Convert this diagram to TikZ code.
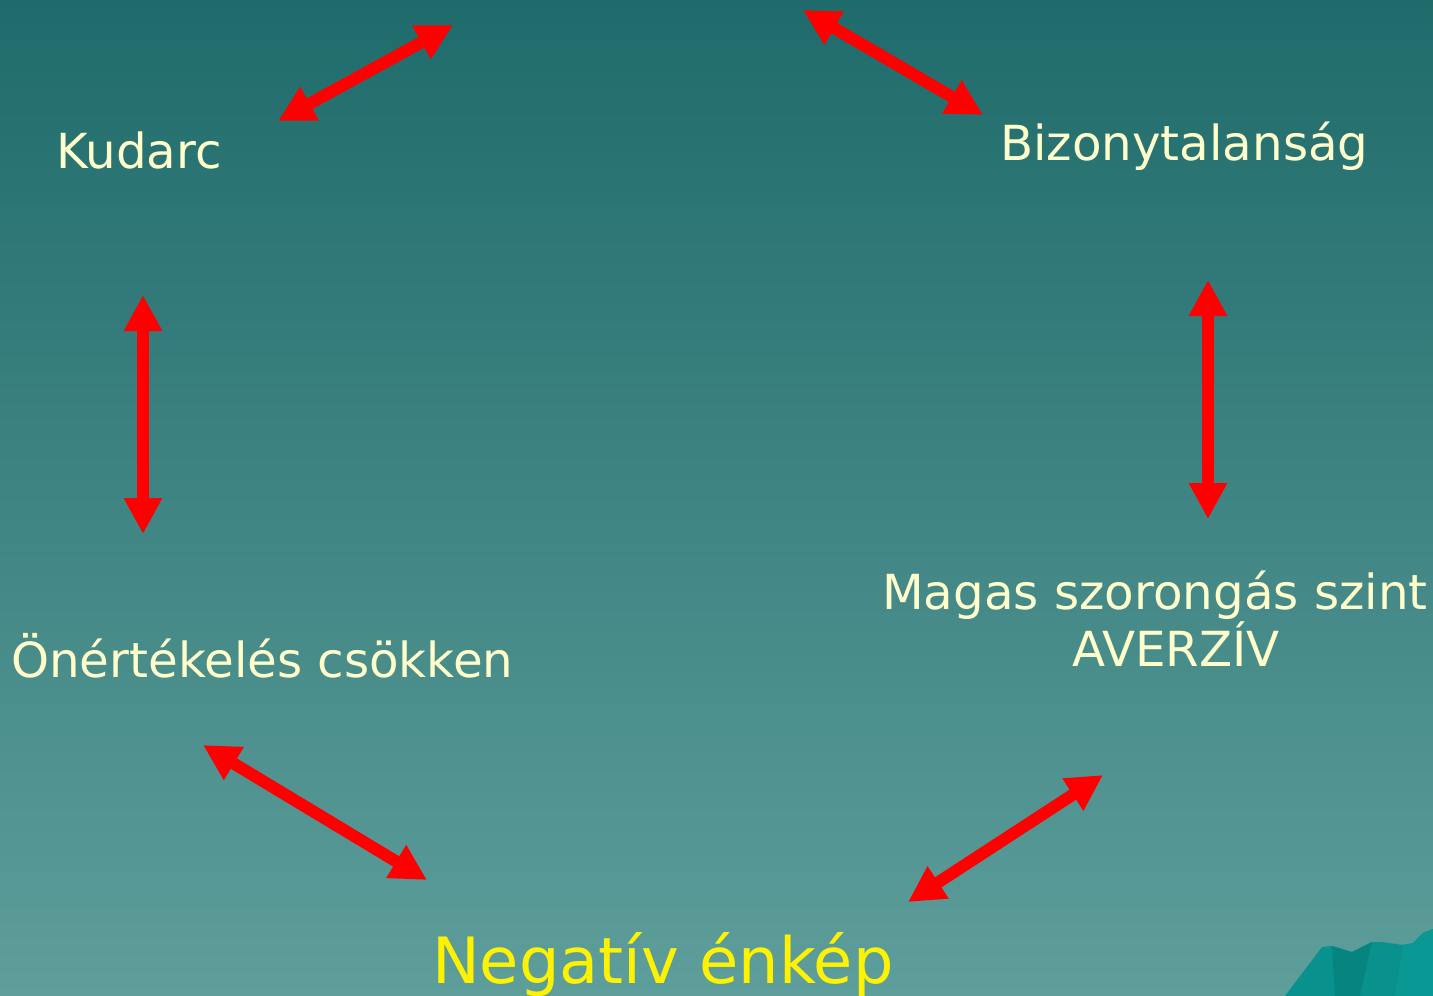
\documentclass[tikz,border=0pt]{standalone}
\usepackage{fontspec}
\setmainfont{DejaVu Sans}
\usetikzlibrary{arrows.meta}
\definecolor{bgtop}{RGB}{31,107,107}
\definecolor{bgbot}{RGB}{94,158,155}
\definecolor{cream}{RGB}{255,255,204}
\definecolor{rockA}{RGB}{9,145,142}
\definecolor{rockB}{RGB}{6,132,128}
\definecolor{rockC}{RGB}{10,152,148}
\tikzset{
  label/.style={anchor=base west, inner sep=0pt, text=cream,
    font=\fontsize{48.3}{58}\selectfont},
  keylabel/.style={anchor=base west, inner sep=0pt, text=yellow,
    font=\fontsize{63.8}{76}\selectfont},
  link/.style={draw=red, line width=12pt,
    {Triangle[length=36pt,width=36pt]}-{Triangle[length=36pt,width=36pt]}}
}
\begin{document}
\begin{tikzpicture}[x=1pt,y=-1pt]
  % background
  \shade[top color=bgtop, bottom color=bgbot] (0,0) rectangle (1433,996);
  \useasboundingbox (0,0) rectangle (1433,996);

  % rock shape in the lower right corner
  \fill[rockA] (1285,996) -- (1322,947) -- (1332,946) -- (1352,952) -- (1372,942)
    -- (1382,942) -- (1403,945) -- (1413,943) -- (1423,933) -- (1433,929)
    -- (1433,996) -- cycle;
  \fill[rockB] (1332,946) -- (1352,952) -- (1372,942) -- (1360,996) -- (1335,996)
    -- cycle;
  \fill[rockC] (1403,945) -- (1413,943) -- (1423,933) -- (1433,929) -- (1433,996)
    -- (1395,996) -- cycle;

  % texts
  \node[label] (kudarc) at (56,168) {Kudarc};
  \node[label] (bizony) at (1000,160) {Bizonytalanság};
  \node[label] (onert) at (11,677) {Önértékelés csökken};
  \node[label] (magas) at (882,609) {Magas szorongás szint};
  \node[label] (averziv) at (1072,666) {AVERZÍV};
  \node[keylabel] (negativ) at (432,983) {Negatív énkép};

  % arrow end points
  \coordinate (a1) at (278,121);  \coordinate (a2) at (453,25);
  \coordinate (b1) at (803,10);   \coordinate (b2) at (983,115);
  \coordinate (c1) at (143,295);  \coordinate (c2) at (143,534);
  \coordinate (d1) at (1208,280); \coordinate (d2) at (1208,519);
  \coordinate (e1) at (203,745);  \coordinate (e2) at (427,880);
  \coordinate (f1) at (908,902);  \coordinate (f2) at (1103,775);

  % double-headed arrows
  \draw[link] (a1) -- (a2);
  \draw[link] (b1) -- (b2);
  \draw[link] (c1) -- (c2);
  \draw[link] (d1) -- (d2);
  \draw[link] (e1) -- (e2);
  \draw[link] (f1) -- (f2);
\end{tikzpicture}
\end{document}
